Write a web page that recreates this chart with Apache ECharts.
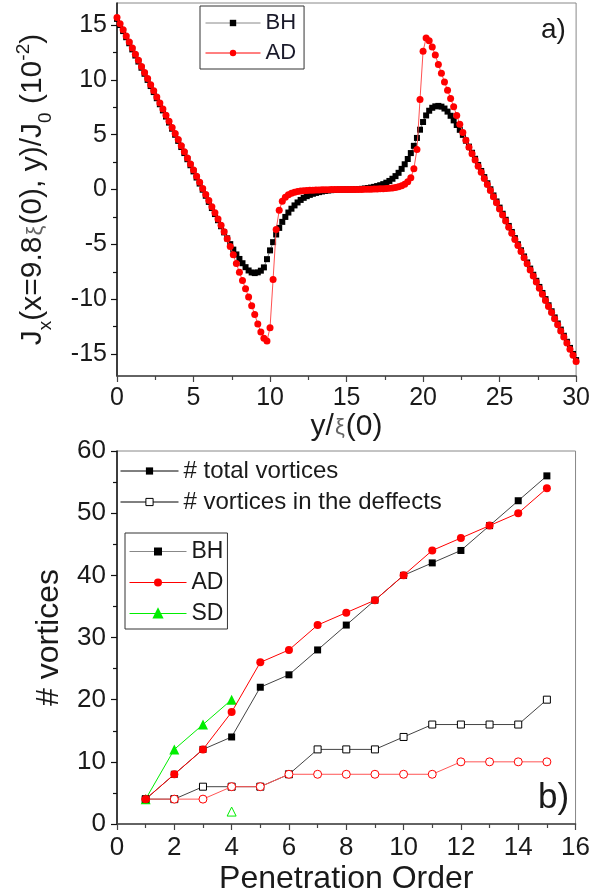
<!DOCTYPE html>
<html><head><meta charset="utf-8">
<script src="https://cdn.jsdelivr.net/npm/echarts@6/dist/echarts.min.js"></script>
<style>html,body{margin:0;padding:0;background:#fff}#c{width:593px;height:896px}</style>
</head><body><div id="c"></div>
<script>
// ---------- panel a) ----------
const yPos = [
 0.0,0.2,0.4,0.6,0.8,1.0,1.2,1.4,1.6,1.8,
 2.0,2.2,2.4,2.6,2.8,3.0,3.2,3.4,3.6,3.8,
 4.0,4.2,4.4,4.6,4.8,5.0,5.2,5.4,5.6,5.8,
 6.0,6.2,6.4,6.6,6.8,7.0,7.2,7.4,7.6,7.8,
 8.0,8.2,8.4,8.6,8.8,9.0,9.2,9.4,9.6,9.8,
 10.0,10.2,10.4,10.6,10.8,11.0,11.2,11.4,11.6,11.8,
 12.0,12.2,12.4,12.6,12.8,13.0,13.2,13.4,13.6,13.8,
 14.0,14.2,14.4,14.6,14.8,15.0,15.2,15.4,15.6,15.8,
 16.0,16.2,16.4,16.6,16.8,17.0,17.2,17.4,17.6,17.8,
 18.0,18.2,18.4,18.6,18.8,19.0,19.2,19.4,19.6,19.8,
 20.0,20.2,20.4,20.6,20.8,21.0,21.2,21.4,21.6,21.8,
 22.0,22.2,22.4,22.6,22.8,23.0,23.2,23.4,23.6,23.8,
 24.0,24.2,24.4,24.6,24.8,25.0,25.2,25.4,25.6,25.8,
 26.0,26.2,26.4,26.6,26.8,27.0,27.2,27.4,27.6,27.8,
 28.0,28.2,28.4,28.6,28.8,29.0,29.2,29.4,29.6,29.8,
 30.0];
const jxBH = [
 15.55,14.99,14.44,13.88,13.33,12.77,12.21,11.66,11.10,10.55,
 9.99,9.43,8.88,8.32,7.77,7.21,6.65,6.10,5.54,4.99,
 4.43,3.87,3.32,2.76,2.21,1.65,1.09,0.54,-0.02,-0.57,
 -1.13,-1.69,-2.24,-2.80,-3.35,-3.91,-4.45,-4.98,-5.48,-5.92,
 -6.33,-6.72,-7.08,-7.38,-7.56,-7.62,-7.55,-7.40,-7.10,-6.35,
 -5.55,-4.80,-4.10,-3.50,-2.95,-2.50,-2.10,-1.75,-1.45,-1.18,
 -0.95,-0.76,-0.61,-0.49,-0.39,-0.31,-0.24,-0.18,-0.13,-0.09,
 -0.06,-0.04,-0.02,-0.01,0.00,0.00,0.00,0.01,0.02,0.04,
 0.06,0.09,0.13,0.18,0.24,0.31,0.39,0.49,0.62,0.78,
 0.98,1.22,1.52,1.88,2.30,2.78,3.32,3.98,4.70,5.45,
 6.15,6.75,7.18,7.45,7.58,7.62,7.55,7.38,7.10,6.72,
 6.30,5.88,5.44,4.98,4.45,3.91,3.35,2.80,2.24,1.69,
 1.13,0.57,0.02,-0.54,-1.09,-1.65,-2.21,-2.76,-3.32,-3.87,
 -4.43,-4.99,-5.54,-6.10,-6.65,-7.21,-7.77,-8.32,-8.88,-9.43,
 -9.99,-10.55,-11.10,-11.66,-12.21,-12.77,-13.33,-13.88,-14.44,-14.99,
 -15.55];
const jxAD = [
 15.68,15.11,14.56,14.00,13.45,12.89,12.33,11.78,11.22,10.67,
 10.11,9.55,9.00,8.44,7.89,7.33,6.77,6.22,5.66,5.11,
 4.55,3.99,3.44,2.88,2.33,1.77,1.21,0.66,0.10,-0.45,
 -1.01,-1.57,-2.12,-2.68,-3.25,-3.85,-4.50,-5.20,-5.95,-6.75,
 -7.55,-8.30,-9.05,-9.80,-10.60,-11.40,-12.25,-13.00,-13.55,-13.80,
 -12.60,-8.20,-3.65,-1.90,-1.07,-0.70,-0.48,-0.35,-0.26,-0.19,
 -0.14,-0.11,-0.09,-0.07,-0.06,-0.05,-0.04,-0.03,-0.02,-0.02,
 -0.01,-0.01,0.00,0.00,0.00,0.00,0.00,0.00,0.00,0.01,
 0.01,0.02,0.02,0.03,0.04,0.05,0.06,0.07,0.09,0.11,
 0.14,0.19,0.26,0.35,0.48,0.70,1.07,1.90,3.65,8.20,
 12.60,13.80,13.55,13.00,12.25,11.40,10.60,9.80,9.05,8.30,
 7.55,6.75,5.95,5.20,4.50,3.85,3.25,2.68,2.12,1.57,
 1.01,0.45,-0.10,-0.66,-1.21,-1.77,-2.33,-2.88,-3.44,-3.99,
 -4.55,-5.11,-5.66,-6.22,-6.77,-7.33,-7.89,-8.44,-9.00,-9.55,
 -10.11,-10.67,-11.22,-11.78,-12.33,-12.89,-13.45,-14.00,-14.56,-15.11,
 -15.68];
const topYMajor = [-15,-10,-5,0,5,10,15];
const topYMinor = [-12.5,-7.5,-2.5,2.5,7.5,12.5];

// ---------- panel b) ----------
const order = [1,2,3,4,5,6,7,8,9,10,11,12,13,14,15];
const totalBH = [4,8,12,14,22,24,28,32,36,40,42,44,48,52,56];
const totalAD = [4,8,12,18,26,28,32,34,36,40,44,46,48,50,54];
const orderSD = [1,2,3,4];
const totalSD = [4,12,16,20];
const defBH = [4,4,6,6,6,8,12,12,12,14,16,16,16,16,20];
const defAD = [4,4,4,6,6,8,8,8,8,8,8,10,10,10,10];
const orderSDdef = [4];
const defSD = [2];

const zip = (xs, ys) => xs.map((x, i) => [x, ys[i]]);
const FONT = 'Liberation Sans, Arial, sans-serif';
const TXT = '#1a1a1a';
const RED = '#ff0000', GREEN = '#00ee00';

const chart = echarts.init(document.getElementById('c'), null, {renderer: 'canvas'});

const baseX = (extra) => Object.assign({
  type: 'value', position: 'bottom',
  axisLine: {onZero: false, lineStyle: {color: '#444', width: 1.5}},
  axisTick: {show: true, inside: false, length: 6, lineStyle: {color: '#444', width: 1.2}},
  minorTick: {show: true, splitNumber: 2, length: 4, lineStyle: {color: '#444', width: 1.2}},
  splitLine: {show: false},
  minorSplitLine: {show: false},
  axisLabel: {fontFamily: FONT, color: TXT}
}, extra);

const option = {
  animation: false,
  backgroundColor: '#fff',
  textStyle: {fontFamily: FONT},
  grid: [
    {left: 117, right: 14, top: 3, height: 373, show: true, borderColor: '#888', borderWidth: 1},
    {left: 117, right: 14, top: 451, height: 373, show: true, borderColor: '#888', borderWidth: 1}
  ],
  xAxis: [
    baseX({gridIndex: 0, min: 0, max: 30, interval: 5,
      axisLabel: {fontFamily: FONT, color: TXT, fontSize: 25, margin: 10},
      name: '{n|y/}{g|ξ}{n|(0)}', nameLocation: 'middle', nameGap: 29,
      nameTextStyle: {rich: {
        n: {fontFamily: FONT, fontSize: 30, color: TXT, lineHeight: 32, verticalAlign: 'bottom'},
        g: {fontFamily: FONT, fontSize: 22, color: '#666', lineHeight: 24, verticalAlign: 'bottom', padding: [0, 1, 3, 1]}
      }}
    }),
    baseX({gridIndex: 1, min: 0, max: 16, interval: 2,
      axisLabel: {fontFamily: FONT, color: TXT, fontSize: 26, margin: 11},
      name: 'Penetration Order', nameLocation: 'middle', nameGap: 39,
      nameTextStyle: {fontFamily: FONT, fontSize: 32, color: TXT}
    })
  ],
  yAxis: [
    {type: 'value', gridIndex: 0, min: -17, max: 17, position: 'left',
      axisLine: {onZero: false, lineStyle: {color: '#111', width: 1.5}},
      axisTick: {show: true, inside: false, length: 6, customValues: topYMajor, lineStyle: {color: '#111', width: 1.2}},
      axisLabel: {customValues: topYMajor, fontFamily: FONT, color: TXT, fontSize: 25, margin: 10},
      splitLine: {show: false},
      name: '{n|J}{s|x}{n|(x=9.8}{g|ξ}{n|(0), y)/J}{s|0}{n| (10}{p|-2}{n|)}',
      nameLocation: 'middle', nameGap: 62, nameRotate: 90,
      nameTextStyle: {rich: {
        n: {fontFamily: FONT, fontSize: 30, color: TXT, lineHeight: 32, verticalAlign: 'bottom', padding: [0, 0, 7, 0]},
        s: {fontFamily: FONT, fontSize: 19, color: TXT, lineHeight: 20, verticalAlign: 'bottom'},
        p: {fontFamily: FONT, fontSize: 19, color: TXT, lineHeight: 20, verticalAlign: 'bottom', padding: [0, 0, 22, 0]},
        g: {fontFamily: FONT, fontSize: 22, color: '#666', lineHeight: 24, verticalAlign: 'bottom', padding: [0, 1, 8, 1]}
      }}
    },
    {type: 'value', gridIndex: 0, min: -17, max: 17, position: 'left',
      axisLine: {show: false, onZero: false},
      axisTick: {show: true, inside: false, length: 4, customValues: topYMinor, lineStyle: {color: '#111', width: 1.2}},
      axisLabel: {show: false},
      splitLine: {show: false}
    },
    {type: 'value', gridIndex: 1, min: 0, max: 60, interval: 10, position: 'left',
      axisLine: {onZero: false, lineStyle: {color: '#111', width: 1.5}},
      axisTick: {show: true, inside: false, length: 6, lineStyle: {color: '#111', width: 1.2}},
      minorTick: {show: true, splitNumber: 2, length: 4, lineStyle: {color: '#111', width: 1.2}},
      axisLabel: {fontFamily: FONT, color: TXT, fontSize: 26, margin: 11},
      splitLine: {show: false},
      name: '# vortices', nameLocation: 'middle', nameGap: 52, nameRotate: 90,
      nameTextStyle: {fontFamily: FONT, fontSize: 32, color: TXT}
    }
  ],
  legend: [
    {left: 200, top: 6, orient: 'vertical', itemWidth: 55, itemHeight: 8, itemGap: 8,
      padding: [6, 8, 5, 5], borderColor: '#333', borderWidth: 1, backgroundColor: '#fff',
      textStyle: {fontFamily: FONT, fontSize: 22, color: '#1a1a2a'},
      data: [
        {name: 'BH', itemStyle: {color: '#000'}, lineStyle: {color: '#888', width: 1}},
        {name: 'AD', itemStyle: {color: RED}, lineStyle: {color: RED, width: 1}}
      ]},
    {left: 120, top: 459, orient: 'vertical', itemWidth: 58, itemHeight: 9, itemGap: 7, padding: 0,
      textStyle: {fontFamily: FONT, fontSize: 24, color: TXT},
      data: [
        {name: '# total vortices', itemStyle: {color: '#000'}, lineStyle: {color: '#000', width: 1}},
        {name: '# vortices in the deffects', itemStyle: {color: '#fff', borderColor: '#000', borderWidth: 1}, lineStyle: {color: '#000', width: 1}}
      ]},
    {left: 125, top: 533, orient: 'vertical', itemWidth: 57, itemHeight: 10, itemGap: 8,
      padding: [7, 4, 4, 4], borderColor: '#333', borderWidth: 1, backgroundColor: '#fff',
      textStyle: {fontFamily: FONT, fontSize: 23, color: TXT},
      data: [
        {name: 'BH', itemStyle: {color: '#000'}, lineStyle: {color: '#888', width: 1}},
        {name: 'AD', itemStyle: {color: RED}, lineStyle: {color: RED, width: 1}},
        {name: 'SD', itemStyle: {color: GREEN}, lineStyle: {color: GREEN, width: 1}}
      ]}
  ],
  graphic: [
    {type: 'text', left: 541, top: 16, style: {text: 'a)', font: '28px ' + FONT, fill: TXT}},
    {type: 'text', left: 538, top: 781, style: {text: 'b)', font: '35px ' + FONT, fill: TXT}}
  ],
  series: [
    {name: 'BH', type: 'line', xAxisIndex: 0, yAxisIndex: 0, data: zip(yPos, jxBH),
      symbol: 'rect', symbolSize: 6, showAllSymbol: true,
      itemStyle: {color: '#000'}, lineStyle: {color: '#888', width: 1}, z: 2},
    {name: 'AD', type: 'line', xAxisIndex: 0, yAxisIndex: 0, data: zip(yPos, jxAD),
      symbol: 'circle', symbolSize: 7, showAllSymbol: true,
      itemStyle: {color: RED}, lineStyle: {color: '#ff5050', width: 1}, z: 3},

    {name: '# total vortices', type: 'line', xAxisIndex: 1, yAxisIndex: 2, data: [],
      symbol: 'rect', symbolSize: 7, itemStyle: {color: '#000'}, lineStyle: {color: '#000', width: 1}},
    {name: '# vortices in the deffects', type: 'line', xAxisIndex: 1, yAxisIndex: 2, data: [],
      symbol: 'rect', symbolSize: 7, itemStyle: {color: '#fff', borderColor: '#000', borderWidth: 1}, lineStyle: {color: '#000', width: 1}},

    {name: 'BH', type: 'line', xAxisIndex: 1, yAxisIndex: 2, data: zip(order, defBH),
      symbol: 'rect', symbolSize: 7, showAllSymbol: true,
      itemStyle: {color: '#fff', borderColor: '#000', borderWidth: 1}, lineStyle: {color: '#444', width: 1}, z: 2},
    {name: 'AD', type: 'line', xAxisIndex: 1, yAxisIndex: 2, data: zip(order, defAD),
      symbol: 'circle', symbolSize: 8, showAllSymbol: true,
      itemStyle: {color: '#fff', borderColor: RED, borderWidth: 1}, lineStyle: {color: '#f55', width: 1}, z: 3},
    {name: 'SD', type: 'line', xAxisIndex: 1, yAxisIndex: 2, data: zip(orderSDdef, defSD),
      symbol: 'triangle', symbolSize: 9, showAllSymbol: true,
      itemStyle: {color: '#fff', borderColor: GREEN, borderWidth: 1}, lineStyle: {color: GREEN, width: 1}, z: 3},
    {name: 'BH', type: 'line', xAxisIndex: 1, yAxisIndex: 2, data: zip(order, totalBH),
      symbol: 'rect', symbolSize: 7, showAllSymbol: true,
      itemStyle: {color: '#000'}, lineStyle: {color: '#444', width: 1}, z: 4},
    {name: 'AD', type: 'line', xAxisIndex: 1, yAxisIndex: 2, data: zip(order, totalAD),
      symbol: 'circle', symbolSize: 8, showAllSymbol: true,
      itemStyle: {color: RED}, lineStyle: {color: RED, width: 1}, z: 5},
    {name: 'SD', type: 'line', xAxisIndex: 1, yAxisIndex: 2, data: zip(orderSD, totalSD),
      symbol: 'triangle', symbolSize: 10, showAllSymbol: true,
      itemStyle: {color: GREEN}, lineStyle: {color: GREEN, width: 1}, z: 3}
  ]
};
chart.setOption(option);
</script>
</body></html>
